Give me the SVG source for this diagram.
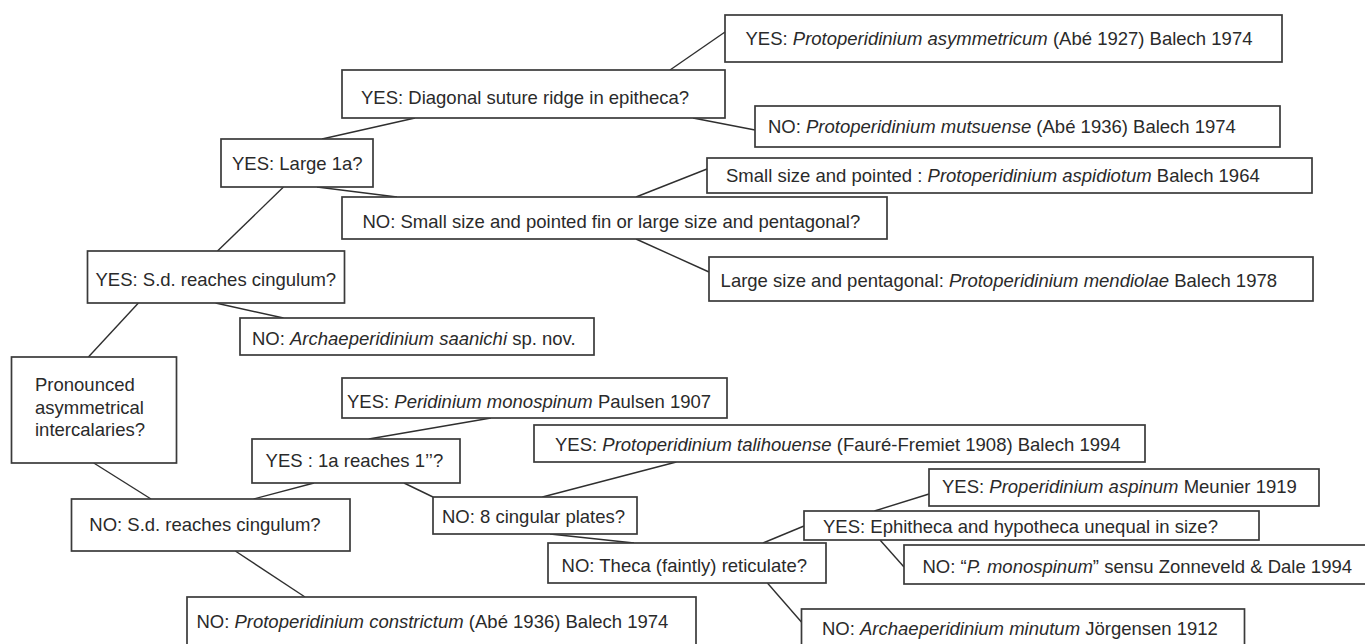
<svg xmlns="http://www.w3.org/2000/svg" width="1365" height="644" viewBox="0 0 1365 644">
<style>
.box{fill:#fff;stroke:#3a3a3a;stroke-width:1.7}
.t{font-family:"Liberation Sans",Arial,sans-serif;font-size:18.5px;fill:#2a2a2a}
.i{font-style:italic}
.c line{stroke:#2f2f2f;stroke-width:1.4}
</style>
<rect width="1365" height="644" fill="#fff"/>
<g id="connectors" class="c">
<line x1="670" y1="70" x2="725" y2="32"/>
<line x1="693" y1="118" x2="755" y2="130"/>
<line x1="322" y1="139" x2="415" y2="118"/>
<line x1="317" y1="187" x2="397" y2="197"/>
<line x1="636" y1="197" x2="707" y2="169"/>
<line x1="636" y1="239" x2="709" y2="272"/>
<line x1="283.5" y1="187" x2="217.5" y2="251"/>
<line x1="215.6" y1="303" x2="283.5" y2="318"/>
<line x1="138.4" y1="303" x2="88.4" y2="357"/>
<line x1="93.75" y1="463" x2="151" y2="499"/>
<line x1="253.6" y1="499" x2="314" y2="483"/>
<line x1="368.75" y1="439" x2="491" y2="418"/>
<line x1="404" y1="483" x2="433" y2="497"/>
<line x1="542.4" y1="497" x2="676.3" y2="462"/>
<line x1="550" y1="534" x2="634" y2="543"/>
<line x1="235.3" y1="551" x2="305" y2="597"/>
<line x1="874.4" y1="511" x2="929" y2="494"/>
<line x1="763" y1="543" x2="804" y2="526"/>
<line x1="880" y1="540" x2="904" y2="567"/>
<line x1="767.4" y1="583" x2="801.4" y2="622"/>
</g>
<g id="n-asymmetricum"><rect class="box" x="725" y="15" width="557" height="47"/><text class="t" x="745.5" y="45">YES: <tspan class="i">Protoperidinium asymmetricum</tspan> (Abé 1927) Balech 1974</text></g>
<g id="n-diagonal"><rect class="box" x="342" y="70" width="383" height="48"/><text class="t" x="361" y="104">YES: Diagonal suture ridge in epitheca?</text></g>
<g id="n-mutsuense"><rect class="box" x="755" y="106" width="525" height="41"/><text class="t" x="768" y="133">NO: <tspan class="i">Protoperidinium mutsuense</tspan> (Abé 1936) Balech 1974</text></g>
<g id="n-large1a"><rect class="box" x="221" y="139" width="152" height="48"/><text class="t" x="232" y="170">YES: Large 1a?</text></g>
<g id="n-aspidiotum"><rect class="box" x="707" y="158" width="605" height="35"/><text class="t" x="726" y="181.5">Small size and pointed : <tspan class="i">Protoperidinium aspidiotum</tspan> Balech 1964</text></g>
<g id="n-smallsize"><rect class="box" x="342" y="197" width="545" height="42"/><text class="t" x="362.5" y="228.3">NO: Small size and pointed fin or large size and pentagonal?</text></g>
<g id="n-mendiolae"><rect class="box" x="709" y="257" width="604" height="44"/><text class="t" x="720.6" y="286.7">Large size and pentagonal: <tspan class="i">Protoperidinium mendiolae</tspan> Balech 1978</text></g>
<g id="n-yes-sd"><rect class="box" x="87.5" y="251" width="257" height="52"/><text class="t" x="95.5" y="286">YES: S.d. reaches cingulum?</text></g>
<g id="n-saanichi"><rect class="box" x="240" y="318" width="354" height="37"/><text class="t" x="252" y="345">NO: <tspan class="i">Archaeperidinium saanichi</tspan> sp. nov.</text></g>
<g id="n-pronounced"><rect class="box" x="11.5" y="357" width="165" height="106"/><text class="t" x="35" y="391">Pronounced</text><text class="t" x="35" y="413.5">asymmetrical</text><text class="t" x="35" y="435.5">intercalaries?</text></g>
<g id="n-monospinum"><rect class="box" x="342" y="378" width="385" height="40"/><text class="t" x="347" y="408.3">YES: <tspan class="i">Peridinium monospinum</tspan> Paulsen 1907</text></g>
<g id="n-talihouense"><rect class="box" x="534" y="425" width="611" height="37"/><text class="t" x="555" y="450.7">YES: <tspan class="i">Protoperidinium talihouense</tspan> (Fauré-Fremiet 1908) Balech 1994</text></g>
<g id="n-yes-1a"><rect class="box" x="252" y="439" width="208" height="44"/><text class="t" x="265.6" y="466.7">YES : 1a reaches 1’’?</text></g>
<g id="n-aspinum"><rect class="box" x="929" y="469" width="390" height="37"/><text class="t" x="942" y="493.3">YES: <tspan class="i">Properidinium aspinum</tspan> Meunier 1919</text></g>
<g id="n-cingular"><rect class="box" x="433" y="497" width="204" height="37"/><text class="t" x="442" y="523.3">NO: 8 cingular plates?</text></g>
<g id="n-no-sd"><rect class="box" x="71.5" y="499" width="278.5" height="52"/><text class="t" x="89.3" y="530.7">NO: S.d. reaches cingulum?</text></g>
<g id="n-ephitheca"><rect class="box" x="804" y="511" width="455" height="29"/><text class="t" x="823" y="533.3">YES: Ephitheca and hypotheca unequal in size?</text></g>
<g id="n-theca"><rect class="box" x="548" y="543" width="278" height="40"/><text class="t" x="561.6" y="571.7">NO: Theca (faintly) reticulate?</text></g>
<g id="n-pmonospinum"><rect class="box" x="904" y="545" width="470" height="39"/><text class="t" x="922.5" y="573.3">NO: “<tspan class="i">P. monospinum</tspan>” sensu Zonneveld &amp; Dale 1994</text></g>
<g id="n-constrictum"><rect class="box" x="187" y="597" width="509" height="60"/><text class="t" x="196.4" y="628">NO: <tspan class="i">Protoperidinium constrictum</tspan> (Abé 1936) Balech 1974</text></g>
<g id="n-minutum"><rect class="box" x="801.5" y="609" width="443" height="50"/><text class="t" x="822" y="635">NO: <tspan class="i">Archaeperidinium minutum</tspan> Jörgensen 1912</text></g>
</svg>
